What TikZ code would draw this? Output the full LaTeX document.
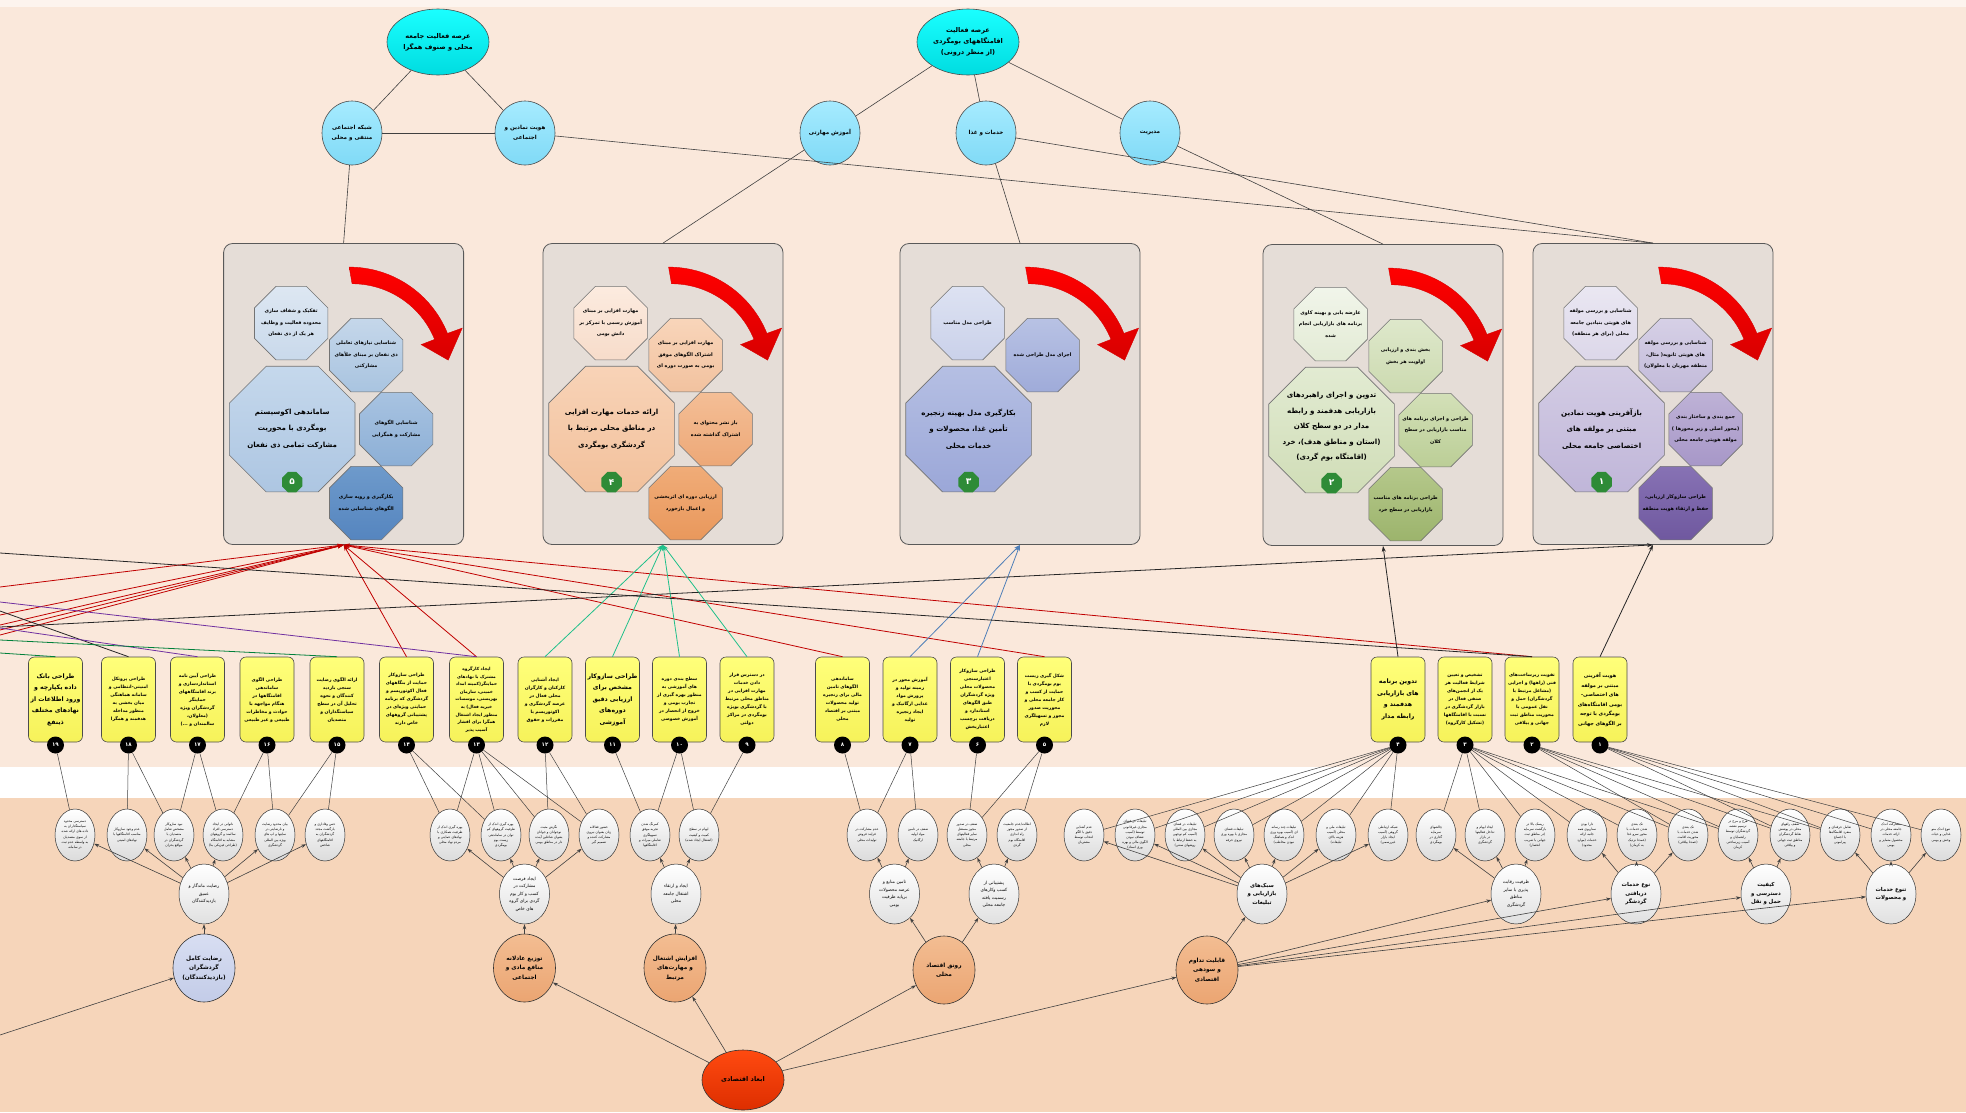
\documentclass[tikz,border=0pt]{standalone}
\usepackage{fontspec}
\setmainfont{DejaVu Sans}
\newfontfamily\fa[Script=Arabic]{DejaVu Sans}
\TeXXeTstate=1
\usetikzlibrary{shapes.geometric,arrows.meta,calc}
\newcommand\R[1]{\beginR #1\endR}
\newcommand\Rw[1]{\noindent\hbox to \linewidth{\hss\beginR #1\endR\hss}}
\newcommand\fz[2]{\fontsize{#1}{#2}\selectfont}
\definecolor{bgtop}{HTML}{FAE8DB}
\definecolor{bgstrip}{HTML}{FDF4EE}
\definecolor{bgbot}{HTML}{F6D5BA}
\definecolor{cyt}{HTML}{1AFFFF}
\definecolor{cyb}{HTML}{00DCE0}
\definecolor{lbt}{HTML}{A6EBFF}
\definecolor{lbb}{HTML}{80DAF6}
\definecolor{pnl}{HTML}{E5DDD7}
\definecolor{yelt}{HTML}{FFFF7A}
\definecolor{yelb}{HTML}{F6F25A}
\definecolor{bdg}{HTML}{2E8B37}
\definecolor{arrR}{HTML}{FF0000}
\definecolor{arrRd}{HTML}{D80000}
\definecolor{lnred}{HTML}{C00000}
\definecolor{lnteal}{HTML}{1FC08A}
\definecolor{lnblue}{HTML}{4F7FB8}
\definecolor{lnpur}{HTML}{7030A0}
\definecolor{lngrn}{HTML}{00803A}
\definecolor{orgt}{HTML}{F3BD92}
\definecolor{orgb}{HTML}{EBA572}
\definecolor{lavt}{HTML}{D8DEF2}
\definecolor{lavb}{HTML}{C3CCE8}
\definecolor{rtt}{HTML}{FF4A10}
\definecolor{rtb}{HTML}{DD2E00}
\definecolor{ba1}{HTML}{DDE7F2}\definecolor{ba2}{HTML}{C9D9EB}
\definecolor{bb1}{HTML}{C5D7EA}\definecolor{bb2}{HTML}{A9C4E0}
\definecolor{bm1}{HTML}{C5D8EC}\definecolor{bm2}{HTML}{ADC6E2}
\definecolor{bc1}{HTML}{A8C3E1}\definecolor{bc2}{HTML}{8CAFD6}
\definecolor{bd1}{HTML}{6E9ACB}\definecolor{bd2}{HTML}{5585BF}
\definecolor{oa1}{HTML}{FCEBDF}\definecolor{oa2}{HTML}{F7DCCA}
\definecolor{ob1}{HTML}{F8D5BA}\definecolor{ob2}{HTML}{F2C29F}
\definecolor{om1}{HTML}{F8D3B7}\definecolor{om2}{HTML}{F2C19C}
\definecolor{oc1}{HTML}{F4BE96}\definecolor{oc2}{HTML}{EDA877}
\definecolor{od1}{HTML}{F0AC78}\definecolor{od2}{HTML}{E9985C}
\definecolor{va1}{HTML}{DDE2F2}\definecolor{va2}{HTML}{CAD1EA}
\definecolor{vb1}{HTML}{B8C2E4}\definecolor{vb2}{HTML}{9FABD9}
\definecolor{vm1}{HTML}{B5BFE3}\definecolor{vm2}{HTML}{9BA7D8}
\definecolor{ga1}{HTML}{F1F5EA}\definecolor{ga2}{HTML}{E3EBD5}
\definecolor{gb1}{HTML}{DEE8CB}\definecolor{gb2}{HTML}{CCDAB0}
\definecolor{gm1}{HTML}{E2EBD2}\definecolor{gm2}{HTML}{D0DDB7}
\definecolor{gc1}{HTML}{D3E0B8}\definecolor{gc2}{HTML}{BBCE96}
\definecolor{gd1}{HTML}{B5C88B}\definecolor{gd2}{HTML}{9CB46C}
\definecolor{pa1}{HTML}{EAE7F2}\definecolor{pa2}{HTML}{DCD7E9}
\definecolor{pb1}{HTML}{D6D0E6}\definecolor{pb2}{HTML}{C3BBDA}
\definecolor{pm1}{HTML}{D3CCE4}\definecolor{pm2}{HTML}{C0B6D9}
\definecolor{pc1}{HTML}{BEB2D6}\definecolor{pc2}{HTML}{A797C8}
\definecolor{pd1}{HTML}{8772B4}\definecolor{pd2}{HTML}{6F589F}
\tikzset{
  ln/.style={draw=black!75, line width=0.6pt},
  arr/.style={draw=black!75, line width=0.6pt, -{Stealth[length=5pt,width=3.5pt]}},
  carr/.style={line width=0.8pt, -{Stealth[length=6pt,width=4pt]}},
  cyn/.style={ellipse, draw=black!70, line width=0.6pt, top color=cyt, bottom color=cyb, minimum width=102pt, minimum height=66pt, inner sep=0pt, align=center, font=\fa\bfseries\fz{6.6}{11}},
  lbc/.style={ellipse, draw=black!70, line width=0.6pt, top color=lbt, bottom color=lbb, minimum width=60pt, minimum height=64pt, inner sep=0pt, align=center, font=\fa\bfseries\fz{5.6}{10}},
  panel/.style={rectangle, rounded corners=9pt, draw=black!65, line width=0.8pt, fill=pnl, minimum width=240pt, minimum height=301pt},
  octS/.style={regular polygon, regular polygon sides=8, minimum size=79.5pt, inner sep=0pt, draw=black!55, line width=0.6pt},
  octB/.style={regular polygon, regular polygon sides=8, minimum size=136pt, inner sep=0pt, draw=black!55, line width=0.6pt},
  tS/.style={inner sep=0pt, align=center, font=\fa\bfseries\fz{4.9}{11.5}},
  tB/.style={inner sep=0pt, align=center, font=\fa\bfseries\fz{7.1}{16.5}},
  bdg8/.style={regular polygon, regular polygon sides=8, minimum size=22pt, inner sep=0pt, fill=bdg, text=white, font=\fa\bfseries\fz{9}{9}},
  ybox/.style={rectangle, rounded corners=6pt, draw=black!70, line width=0.6pt, top color=yelt, bottom color=yelb, minimum width=54pt, minimum height=85pt, text width=52pt, inner sep=0pt, align=center, font=\fa\bfseries\fz{4.5}{8}, execute at begin node={\let\R\Rw}},
  yboxL/.style={ybox, font=\fa\bfseries\fz{6.2}{11.5}},
  bk/.style={circle, fill=black, minimum size=17pt, inner sep=0pt, text=white, font=\fa\bfseries\fz{5.5}{5.5}},
  sm/.style={ellipse, draw=black!80, line width=0.5pt, top color=white, bottom color=black!14, minimum width=40pt, minimum height=52pt, text width=27pt, inner sep=0pt, align=center, font=\fa\fz{3.3}{5.2}, execute at begin node={\let\R\Rw}},
  md/.style={ellipse, draw=black!80, line width=0.5pt, top color=white, bottom color=black!12, minimum width=50pt, minimum height=60pt, text width=33pt, inner sep=0pt, align=center, font=\fa\fz{4.4}{7.5}, execute at begin node={\let\R\Rw}},
  gl/.style={ellipse, draw=black!80, line width=0.6pt, minimum width=62pt, minimum height=68pt, text width=42pt, inner sep=0pt, align=center, font=\fa\bfseries\fz{5.8}{9.5}, execute at begin node={\let\R\Rw}},
}
\newcommand\redarrow{\path[draw=arrRd, line width=0.4pt, top color=arrR, bottom color=arrRd] (126,24) arc[start angle=-90,end angle=-22,radius=106] -- (239,85) -- (225,117) -- (198,101.5) -- (211.4,96.3) arc[start angle=-22,end angle=-90,radius=89] -- cycle;}
\begin{document}
\begin{tikzpicture}[x=1pt,y=-1pt]
\useasboundingbox (0,0) rectangle (1966,1112);
\fill[bgtop] (0,0) rectangle (1966,767);
\fill[bgstrip] (0,0) rectangle (1966,7);
\fill[white] (0,767) rectangle (1966,798);
\fill[bgbot] (0,798) rectangle (1966,1112);

% ---------- top circles
\node[cyn] (ca) at (438,42) {\R{عرصه فعالیت جامعه}\\\R{محلی و صنوف همگرا}};
\node[cyn] (cb) at (968,42) {\R{عرصه فعالیت}\\\R{اقامتگاههای بومگردی}\\\R{(از منظر درونی)}};
\node[lbc] (shabake) at (352,133) {\R{شبکه اجتماعی}\\\R{منتفی و محلی}};
\node[lbc] (hoviyat) at (525,133) {\R{هویت نمادین و}\\\R{اجتماعی}};
\node[lbc] (amoozesh) at (830,133) {\R{آموزش مهارتی}};
\node[lbc] (khadamat) at (986,133) {\R{خدمات و غذا}};
\node[lbc] (modiriyat) at (1150,133) {\R{مدیریت}};

% ---------- panels
\node[panel] (p5) at (343.6,394) {};
\node[panel] (p4) at (663,394) {};
\node[panel] (p3) at (1020,394) {};
\node[panel] (p2) at (1383,395) {};
\node[panel] (p1) at (1653,394) {};

\draw[ln] (ca) -- (shabake);
\draw[ln] (ca) -- (hoviyat);
\draw[ln] (shabake) -- (hoviyat);
\draw[ln] (cb) -- (amoozesh);
\draw[ln] (cb) -- (khadamat);
\draw[ln] (cb) -- (modiriyat);
\draw[ln] (shabake) -- (p5.north);
\draw[ln] (amoozesh) -- (p4.north);
\draw[ln] (khadamat) -- (p3.north);
\draw[ln] (modiriyat) -- (p2.north);
\draw[ln] (hoviyat) -- (p1.north);
\draw[ln] (khadamat) -- (p1.north);

% panel 5
\begin{scope}[shift={(p5.north west)}]
\redarrow
\node[octS, top color=ba1, bottom color=ba2] (p5a) at (68,80) {};
\node[tS] (p5at) at (p5a) {\R{تفکیک و شفاف سازی}\\\R{محدوده فعالیت و وظایف}\\\R{هر یک از ذی نفعان}};
\node[octS, top color=bb1, bottom color=bb2] (p5b) at (143,112) {};
\node[tS] (p5bt) at (p5b) {\R{شناسایی نیازهای تعاملی}\\\R{ذی نفعان بر مبنای خلأهای}\\\R{مشارکتی}};
\node[octB, top color=bm1, bottom color=bm2] (p5m) at (69,186) {};
\node[tB] (p5mt) at (p5m) {\R{ساماندهی اکوسیستم}\\\R{بومگردی با محوریت}\\\R{مشارکت تمامی ذی نفعان}};
\node[octS, top color=bc1, bottom color=bc2] (p5c) at (173,186) {};
\node[tS] (p5ct) at (p5c) {\R{شناسایی الگوهای}\\\R{مشارکت و همگرایی}};
\node[octS, top color=bd1, bottom color=bd2] (p5d) at (143,260) {};
\node[tS] (p5dt) at (p5d) {\R{بکارگیری و رویه سازی}\\\R{الگوهای شناسایی شده}};
\node[bdg8] (p5n) at (69,239) {۵};
\end{scope}
% panel 4
\begin{scope}[shift={(p4.north west)}]
\redarrow
\node[octS, top color=oa1, bottom color=oa2] (p4a) at (68,80) {};
\node[tS] (p4at) at (p4a) {\R{مهارت افزایی بر مبنای}\\\R{آموزش رسمی با تمرکز بر}\\\R{دانش بومی}};
\node[octS, top color=ob1, bottom color=ob2] (p4b) at (143,112) {};
\node[tS] (p4bt) at (p4b) {\R{مهارت افزایی بر مبنای}\\\R{اشتراک الگوهای موفق}\\\R{بومی به صورت دوره ای}};
\node[octB, top color=om1, bottom color=om2] (p4m) at (69,186) {};
\node[tB] (p4mt) at (p4m) {\R{ارائه خدمات مهارت افزایی}\\\R{در مناطق محلی مرتبط با}\\\R{گردشگری بومگردی}};
\node[octS, top color=oc1, bottom color=oc2] (p4c) at (173,186) {};
\node[tS] (p4ct) at (p4c) {\R{باز نشر محتوای به}\\\R{اشتراک گذاشته شده}};
\node[octS, top color=od1, bottom color=od2] (p4d) at (143,260) {};
\node[tS] (p4dt) at (p4d) {\R{ارزیابی دوره ای اثربخشی}\\\R{و اعمال بازخورد}};
\node[bdg8] (p4n) at (69,239) {۴};
\end{scope}
% panel 3
\begin{scope}[shift={(p3.north west)}]
\redarrow
\node[octS, top color=va1, bottom color=va2] (p3a) at (68,80) {};
\node[tS] (p3at) at (p3a) {\R{طراحی مدل مناسب}};
\node[octS, top color=vb1, bottom color=vb2] (p3b) at (143,112) {};
\node[tS] (p3bt) at (p3b) {\R{اجرای مدل طراحی شده}};
\node[octB, top color=vm1, bottom color=vm2] (p3m) at (69,186) {};
\node[tB] (p3mt) at (p3m) {\R{بکارگیری مدل بهینه زنجیره}\\\R{تأمین غذا، محصولات و}\\\R{خدمات محلی}};
\node[bdg8] (p3n) at (69,239) {۳};
\end{scope}
% panel 2
\begin{scope}[shift={(p2.north west)}]
\redarrow
\node[octS, top color=ga1, bottom color=ga2] (p2a) at (68,80) {};
\node[tS] (p2at) at (p2a) {\R{عارضه یابی و بهینه کاوی}\\\R{برنامه های بازاریابی انجام}\\\R{شده}};
\node[octS, top color=gb1, bottom color=gb2] (p2b) at (143,112) {};
\node[tS] (p2bt) at (p2b) {\R{بخش بندی و ارزیابی}\\\R{اولویت هر بخش}};
\node[octB, top color=gm1, bottom color=gm2] (p2m) at (69,186) {};
\node[tB, font=\fa\bfseries\fz{7.1}{15.5}] (p2mt) at ($(p2m)+(0,-3)$) {\R{تدوین و اجرای راهبردهای}\\\R{بازاریابی هدفمند و رابطه}\\\R{مدار در دو سطح کلان}\\\R{(استان و مناطق هدف)، خرد}\\\R{(اقامتگاه بوم گردی)}};
\node[octS, top color=gc1, bottom color=gc2] (p2c) at (173,186) {};
\node[tS] (p2ct) at (p2c) {\R{طراحی و اجرای برنامه های}\\\R{مناسب بازاریابی در سطح}\\\R{کلان}};
\node[octS, top color=gd1, bottom color=gd2] (p2d) at (143,260) {};
\node[tS] (p2dt) at (p2d) {\R{طراحی برنامه های مناسب}\\\R{بازاریابی در سطح خرد}};
\node[bdg8] (p2n) at (69,239) {۲};
\end{scope}
% panel 1
\begin{scope}[shift={(p1.north west)}]
\redarrow
\node[octS, top color=pa1, bottom color=pa2] (p1a) at (68,80) {};
\node[tS] (p1at) at (p1a) {\R{شناسایی و بررسی مولفه}\\\R{های هویتی بنیادین جامعه}\\\R{محلی (برای هر منطقه)}};
\node[octS, top color=pb1, bottom color=pb2] (p1b) at (143,112) {};
\node[tS] (p1bt) at (p1b) {\R{شناسایی و بررسی مولفه}\\\R{های هویتی ثانویه( مثال،}\\\R{منطقه مهربان با معلولان)}};
\node[octB, top color=pm1, bottom color=pm2] (p1m) at (69,186) {};
\node[tB] (p1mt) at (p1m) {\R{بازآفرینی هویت نمادین}\\\R{مبتنی بر مولفه های}\\\R{اختصاصی جامعه محلی}};
\node[octS, top color=pc1, bottom color=pc2] (p1c) at (173,186) {};
\node[tS] (p1ct) at (p1c) {\R{جمع بندی و ساختار بندی}\\\R{(محور اصلی و زیر محورها )}\\\R{مولفه هویتی جامعه محلی}};
\node[octS, top color=pd1, bottom color=pd2] (p1d) at (143,260) {};
\node[tS] (p1dt) at (p1d) {\R{طراحی سازوکار ارزیابی،}\\\R{حفظ و ارتقاء هویت منطقه}};
\node[bdg8] (p1n) at (69,239) {۱};
\end{scope}

% ---------- yellow boxes
\node[yboxL] (y19) at (55.5,699.5) {\R{طراحی بانک}\\\R{داده یکپارچه و}\\\R{ورود اطلاعات از}\\\R{نهادهای مختلف}\\\R{ذینفع}};
\node[ybox] (y18) at (128.5,699.5) {\R{طراحی پروتکل}\\\R{امنیتی-انتظامی و}\\\R{سامانه هماهنگی}\\\R{میان بخشی به}\\\R{منظور مداخله}\\\R{هدفمند و همگرا}};
\node[ybox] (y17) at (197.5,699.5) {\R{طراحی آیین نامه}\\\R{استانداردسازی و}\\\R{برند اقامتگاههای}\\\R{حمایتگر}\\\R{گردشگران ویژه}\\\R{(معلولان،}\\\R{سالمندان و ...)}};
\node[ybox] (y16) at (267,699.5) {\R{طراحی الگوی}\\\R{ساماندهی}\\\R{اقامتگاهها در}\\\R{هنگام مواجهه با}\\\R{حوادث و مخاطرات}\\\R{طبیعی و غیر طبیعی}};
\node[ybox] (y15) at (337,699.5) {\R{ارائه الگوی رضایت}\\\R{سنجی بازدید}\\\R{کنندگان و نحوه}\\\R{تحلیل آن در سطح}\\\R{سیاستگذاران و}\\\R{متصدیان}};
\node[ybox] (y14) at (406.5,699.5) {\R{طراحی سازوکار}\\\R{حمایت از بنگاههای}\\\R{فعال اکوتوریسم و}\\\R{گردشگری که برنامه}\\\R{حمایتی ویژه‌ای در}\\\R{پشتیبانی گروههای}\\\R{خاص دارند}};
\node[ybox, font=\fa\bfseries\fz{4.3}{7.6}] (y13) at (476.5,699.5) {\R{ایجاد کارگروه}\\\R{مشترک با نهادهای}\\\R{حمایتگر(کمیته امداد}\\\R{خمینی، سازمان}\\\R{بهزیستی، موسسات}\\\R{خیریه فعال) به}\\\R{منظور ایجاد اشتغال}\\\R{همگرا برای اقشار}\\\R{آسیب پذیر}};
\node[ybox] (y12) at (545,699.5) {\R{ایجاد آشنایی}\\\R{کارکنان و کارگران}\\\R{محلی فعال در}\\\R{عرصه گردشگری و}\\\R{اکوتوریسم با}\\\R{مقررات و حقوق}};
\node[yboxL] (y11) at (612.5,699.5) {\R{طراحی سازوکار}\\\R{مشخص برای}\\\R{ارزیابی دقیق}\\\R{دوره‌های}\\\R{آموزشی}};
\node[ybox] (y10) at (679.5,699.5) {\R{سطح بندی دوره}\\\R{های آموزشی به}\\\R{منظور بهره گیری از}\\\R{تجارب بومی و}\\\R{خروج از انحصار در}\\\R{آموزش خصوصی}};
\node[ybox] (y9) at (747,699.5) {\R{در دسترس قرار}\\\R{دادن خدمات}\\\R{مهارت افزایی در}\\\R{مناطق محلی مرتبط}\\\R{با گردشگری بویژه}\\\R{بومگردی در مراکز}\\\R{دولتی}};
\node[ybox] (y8) at (842.5,699.5) {\R{ساماندهی}\\\R{الگوهای تامین}\\\R{مالی برای زنجیره}\\\R{تولید محصولات}\\\R{مبتنی بر اقتصاد}\\\R{محلی}};
\node[ybox] (y7) at (910,699.5) {\R{آموزش محور در}\\\R{زمینه تولید و}\\\R{پرورش مواد}\\\R{غذایی ارگانیک و}\\\R{ایجاد زنجیره}\\\R{تولید}};
\node[ybox] (y6) at (977.5,699.5) {\R{طراحی سازوکار}\\\R{اعتبارسنجی}\\\R{محصولات محلی}\\\R{ویژه گردشگران}\\\R{طبق الگوهای}\\\R{استاندارد و}\\\R{دریافت برچسب}\\\R{اعتباربخش}};
\node[ybox] (y5) at (1044.5,699.5) {\R{شکل گیری زیست}\\\R{بوم بومگردی با}\\\R{حمایت از کسب و}\\\R{کار جامعه محلی و}\\\R{محوریت صدور}\\\R{مجوز و تسهیلگری}\\\R{لازم}};
\node[yboxL] (y4) at (1398,699.5) {\R{تدوین برنامه}\\\R{های بازاریابی}\\\R{هدفمند و}\\\R{رابطه مدار}};
\node[ybox] (y3) at (1465,699.5) {\R{تشخیص و تعیین}\\\R{شرایط فعالیت هر}\\\R{یک از انجمن‌های}\\\R{صنفی فعال در}\\\R{بازار گردشگری در}\\\R{نسبت با اقامتگاهها}\\\R{(تشکیل کارگروه)}};
\node[ybox] (y2) at (1532,699.5) {\R{تقویت زیرساخت‌های}\\\R{فنی (راهها) و اجرایی}\\\R{(مشاغل مرتبط با}\\\R{گردشگران) حمل و}\\\R{نقل عمومی با}\\\R{محوریت مناطق ثبت}\\\R{جهانی و ییلاقی}};
\node[ybox, font=\fa\bfseries\fz{5}{9.5}] (y1) at (1600,699.5) {\R{هویت آفرینی}\\\R{مبتنی بر مولفه}\\\R{های اختصاصی-}\\\R{بومی اقامتگاه‌های}\\\R{بومگردی با توجه}\\\R{بر الگوهای جهانی}};

\foreach \n/\x/\t in {19/55.5/۱۹,18/128.5/۱۸,17/197.5/۱۷,16/267/۱۶,15/337/۱۵,14/406.5/۱۴,13/476.5/۱۳,12/545/۱۲,11/612.5/۱۱,10/679.5/۱۰,9/747/۹,8/842.5/۸,7/910/۷,6/977.5/۶,5/1044.5/۵,4/1398/۴,3/1465/۳,2/1532/۲,1/1600/۱}
  \node[bk] (b\n) at (\x,745) {\t};

% ---------- connectors boxes -> panels
\coordinate (L1) at (0,553);
\coordinate (L2) at (0,587);
\coordinate (L3) at (0,602);
\coordinate (L4) at (0,611);
\coordinate (L5) at (0,615);
\coordinate (L6) at (0,625);
\coordinate (L7) at (0,627);
\coordinate (L8) at (0,628);
\coordinate (L9) at (0,630);
\coordinate (L10) at (0,635);
\coordinate (L11) at (0,640);
\coordinate (L12) at (0,653);
\foreach \c in {L2,L5,L6,L9,L10} \draw[carr, lnred] (\c) -- (p5.south);
\foreach \c in {y14,y13,y8,y5,y2} \draw[carr, lnred] (\c.north) -- (p5.south);
\foreach \c in {y12,y11,y10,y9} \draw[carr, lnteal] (\c.north) -- (p4.south);
\foreach \c in {y7,y6} \draw[carr, lnblue] (\c.north) -- (p3.south);
\draw[carr, black!85] (y4.north) -- (p2.south);
\draw[carr, black!85] (y1.north) -- (p1.south);
\draw[carr, black!85] (L7) -- (p1.south);
\draw[line width=0.8pt, black!85] (L1) -- (y2.north);
\draw[line width=0.8pt, black!85] (L4) -- (y18.north);
\draw[line width=0.8pt, lnpur] (L3) -- (y13.north);
\draw[line width=0.8pt, lnpur] (L8) -- (y17.north);
\draw[line width=0.8pt, lngrn] (L11) -- (y15.north);
\draw[line width=0.8pt, lngrn] (L12) -- (y19.north);

% ---------- small ellipses
\node[sm] (e1) at (75,835) {\R{دسترسی محدود}\\\R{سیاستگذاران به}\\\R{داده های ارائه شده}\\\R{از سوی متصدیان}\\\R{به واسطه عدم ثبت}\\\R{در سامانه}};
\node[sm] (e2) at (127,835) {\R{عدم وجود سازوکار}\\\R{مناسب اقامتگاهها با}\\\R{نهادهای امنیتی}};
\node[sm] (e3) at (174,835) {\R{نبود سازوکار}\\\R{مشخص تعامل}\\\R{متصدیان با}\\\R{گردشگران در}\\\R{مواقع بحران}};
\node[sm] (e4) at (223,835) {\R{ناتوانی در ایجاد}\\\R{دسترسی افراد}\\\R{سالمند و گروههای}\\\R{مشابه به اقامتگاه}\\\R{(طراحی فیزیکی بنا)}};
\node[sm] (e5) at (275,835) {\R{بیان محدود رضایت}\\\R{و نارضایتی در}\\\R{سایتها و اپ های}\\\R{ویژه بین المللی}\\\R{گردشگری}};
\node[sm] (e6) at (325,835) {\R{حس وفاداری و}\\\R{بازگشت مجدد}\\\R{گردشگران به}\\\R{اقامتگاههای}\\\R{شاخص}};
\node[sm] (e7) at (450,835) {\R{بهره گیری اندک از}\\\R{ظرفیت همکاری با}\\\R{نهادهای حمایتی و}\\\R{مردم نهاد محلی}};
\node[sm] (e8) at (501,835) {\R{بهره گیری اندک از}\\\R{ظرفیت گروههای کم}\\\R{توان در ساماندهی}\\\R{زیست بوم}\\\R{بومگردی}};
\node[sm] (e9) at (549,835) {\R{نگرش مثبت}\\\R{نوجوانان و جوانان}\\\R{بعنوان شاغلین آینده}\\\R{دار در مناطق بومی}};
\node[sm] (e10) at (599,835) {\R{حضور فعالانه}\\\R{زنان بعنوان نیروی}\\\R{مشارکت کننده و}\\\R{تصمیم گیر}};
\node[sm] (e11) at (650,835) {\R{کمرنگ شدن}\\\R{تجربه موفق}\\\R{تسهیلگری}\\\R{تعاملی میراث و}\\\R{اقامتگاهها}};
\node[sm] (e12) at (699,835) {\R{ابهام در سطح}\\\R{کمیت و کیفیت}\\\R{(اشتغال ایجاد شده)}};
\node[sm] (e13) at (867,835) {\R{عدم مشارکت در}\\\R{فرایند فروش}\\\R{تولیدات محلی}};
\node[sm] (e14) at (918,835) {\R{ضعف در تامین}\\\R{مواد اولیه}\\\R{ارگانیک}};
\node[sm] (e15) at (967,835) {\R{ضعف در صدور}\\\R{مجوز مستقل}\\\R{سایر فعالیتهای}\\\R{مرتبط با جامعه}\\\R{محلی}};
\node[sm] (e16) at (1017,835) {\R{اطالت/عدم جامعیت}\\\R{از صدور مجوز}\\\R{راه اندازی}\\\R{اقامتگاه بوم}\\\R{گردی}};
\node[sm] (e17) at (1084,835) {\R{عدم آشنایی}\\\R{دقیق با الگو}\\\R{انتخاب توسط}\\\R{مشتریان}};
\node[sm] (e18) at (1135,835) {\R{تبلیغات در فضای}\\\R{مجازی غیرقانونی}\\\R{توسط (آسیب}\\\R{شفاف نبودن}\\\R{الگوی مالی و بهره}\\\R{وری اسناد)}};
\node[sm] (e19) at (1185,835) {\R{تبلیغات در فضای}\\\R{مجازی بین المللی}\\\R{(آسیب کم توجهی}\\\R{به حفظ ارتباط با}\\\R{روشهای سنتی)}};
\node[sm] (e20) at (1234,835) {\R{تبلیغات فضای}\\\R{مجازی با بهره وری}\\\R{نیروی حرفه}};
\node[sm] (e21) at (1284,835) {\R{تبلیغات چند رسانه}\\\R{ای (آسیب بهره وری}\\\R{اندک و هماهنگ}\\\R{نبودن مخاطب)}};
\node[sm] (e22) at (1336,835) {\R{تبلیغات ملی و}\\\R{محلی (آسیب}\\\R{هزینه بالای}\\\R{تبلیغات)}};
\node[sm] (e23) at (1388,835) {\R{شبکه ارتباطی}\\\R{گروهی (آسیب}\\\R{ایجاد بازار}\\\R{غیررسمی)}};
\node[sm] (e24) at (1436,835) {\R{چالشهای}\\\R{سرمایه}\\\R{گذاری در}\\\R{بومگردی}};
\node[sm] (e25) at (1485,835) {\R{ایجاد ابهام و}\\\R{تداخل فعالیتها}\\\R{در بازار}\\\R{گردشگری}};
\node[sm] (e26) at (1535,835) {\R{ریسک بالا در}\\\R{بازگشت سرمایه}\\\R{(در مناطق ثبت}\\\R{جهانی با ضریب}\\\R{انحصار)}};
\node[sm] (e27) at (1587,835) {\R{دارا بودن}\\\R{سناریوی همه}\\\R{جانبه ارائه}\\\R{خدمات (موارد}\\\R{محدود)}};
\node[sm] (e28) at (1637,835) {\R{تک بعدی}\\\R{شدن خدمات با}\\\R{محور سرو غذا}\\\R{(عمدتا نزدیک}\\\R{به کرمان)}};
\node[sm] (e29) at (1688,835) {\R{تک بعدی}\\\R{شدن خدمات با}\\\R{محوریت اقامت}\\\R{(عمدتا ییلاقی)}};
\node[sm] (e30) at (1738,835) {\R{هرج و مرج در}\\\R{ترسیم نقشه}\\\R{گردشگران توسط}\\\R{راهنمایان و}\\\R{آسیب زیرساختی}\\\R{کرمان}};
\node[sm] (e31) at (1790,835) {\R{ضعف راههای}\\\R{محلی در پوشش}\\\R{نقاط گردشگران}\\\R{مناطق ثبت جهانی}\\\R{و ییلاقی}};
\node[sm] (e32) at (1840,835) {\R{تعامل حرفه‌ای و}\\\R{منفرد اقامتگاه‌ها}\\\R{با اجتماع}\\\R{پیرامونی}};
\node[sm] (e33) at (1891,835) {\R{مشارکت اندک}\\\R{جامعه محلی در}\\\R{ارائه خدمات}\\\R{محصول متمایز و}\\\R{بومی}};
\node[sm] (e34) at (1941,835) {\R{تنوع اندک منو}\\\R{غذایی و حیات}\\\R{وحش و بومی}};

% badge -> small ellipse links
\foreach \b/\e in {19/1,18/2,18/3,17/3,17/4,16/4,16/5,15/5,15/6,14/7,14/8,13/7,13/8,13/9,13/10,12/9,12/10,11/11,10/11,10/12,9/12,8/13,7/13,7/14,6/15,5/15,5/16,4/17,4/18,4/19,4/20,4/21,4/22,4/23,3/24,3/25,3/26,3/27,3/28,3/29,3/30,2/29,2/30,2/31,2/32,1/31,1/32,1/33,1/34}
  \draw[ln, line width=0.5pt] (b\b) -- (e\e);

% ---------- mid nodes
\node[md] (m1) at (204,894) {\R{رضایت ماندگار و}\\\R{عمیق}\\\R{بازدیدکنندگان}};
\node[md] (m2) at (524.5,894) {\R{ایجاد فرصت}\\\R{مشارکت در}\\\R{کسب و کار بوم}\\\R{گردی برای گروه}\\\R{های خاص}};
\node[md] (m3) at (676,894) {\R{ایجاد و ارتقاء}\\\R{اشتغال جامعه}\\\R{محلی}};
\node[md] (m4) at (894.5,894) {\R{تامین منابع و}\\\R{عرضه محصولات}\\\R{برپایه ظرفیت}\\\R{بومی}};
\node[md] (m5) at (994,894) {\R{پشتیبانی از}\\\R{کسب وکارهای}\\\R{رسمیت یافته}\\\R{جامعه محلی}};
\node[md, font=\fa\bfseries\fz{5.4}{8.5}] (m6) at (1262,894) {\R{سبک‌های}\\\R{بازاریابی و}\\\R{تبلیغات}};
\node[md] (m7) at (1516,894) {\R{ظرفیت رقابت}\\\R{پذیری با سایر}\\\R{مناطق}\\\R{گردشگری}};
\node[md, font=\fa\bfseries\fz{5.4}{8.5}] (m8) at (1636,894) {\R{نوع خدمات}\\\R{دریافتی}\\\R{گردشگر}};
\node[md, font=\fa\bfseries\fz{5.4}{8.5}] (m9) at (1766,894) {\R{کیفیت}\\\R{دسترسی و}\\\R{حمل و نقل}};
\node[md, font=\fa\bfseries\fz{5.4}{8.5}] (m10) at (1891,894) {\R{تنوع خدمات}\\\R{و محصولات}};

\foreach \m/\e in {1/1,1/2,1/3,1/4,1/5,1/6,2/7,2/8,2/9,2/10,3/11,3/12,4/13,4/14,5/15,5/16,6/17,6/18,6/19,6/20,6/21,6/22,6/23,7/24,7/25,7/26,8/27,8/28,8/29,9/30,9/31,10/32,10/33,10/34}
  \draw[arr] (m\m) -- (e\e);

% ---------- bottom colored
\node[gl, top color=lavt, bottom color=lavb] (g1) at (204,968) {\R{رضایت کامل}\\\R{گردشگران}\\\R{(بازدیدکنندگان)}};
\node[gl, top color=orgt, bottom color=orgb] (g2) at (524.5,968) {\R{توزیع عادلانه}\\\R{منافع مادی و}\\\R{اجتماعی}};
\node[gl, top color=orgt, bottom color=orgb] (g3) at (675,968) {\R{افزایش اشتغال}\\\R{و مهارت‌های}\\\R{مرتبط}};
\node[gl, top color=orgt, bottom color=orgb] (g4) at (944,970) {\R{رونق اقتصاد}\\\R{محلی}};
\node[gl, top color=orgt, bottom color=orgb] (g5) at (1207,970) {\R{قابلیت تداوم}\\\R{و سودهی}\\\R{اقتصادی}};
\node[ellipse, draw=black!80, line width=0.6pt, top color=rtt, bottom color=rtb, minimum width=82pt, minimum height=60pt, inner sep=0pt, font=\fa\bfseries\fz{6.5}{9}] (root) at (743,1080) {\R{ابعاد اقتصادی}};

\draw[arr] (g1) -- (m1);
\draw[arr] (g2) -- (m2);
\draw[arr] (g3) -- (m3);
\draw[arr] (g4) -- (m4);
\draw[arr] (g4) -- (m5);
\foreach \m in {6,7,8,9,10} \draw[arr] (g5) -- (m\m);
\foreach \g in {2,3,4,5} \draw[arr] (root) -- (g\g);
\coordinate (L13) at (0,1035);
\draw[arr] (L13) -- (g1);
\end{tikzpicture}
\end{document}
